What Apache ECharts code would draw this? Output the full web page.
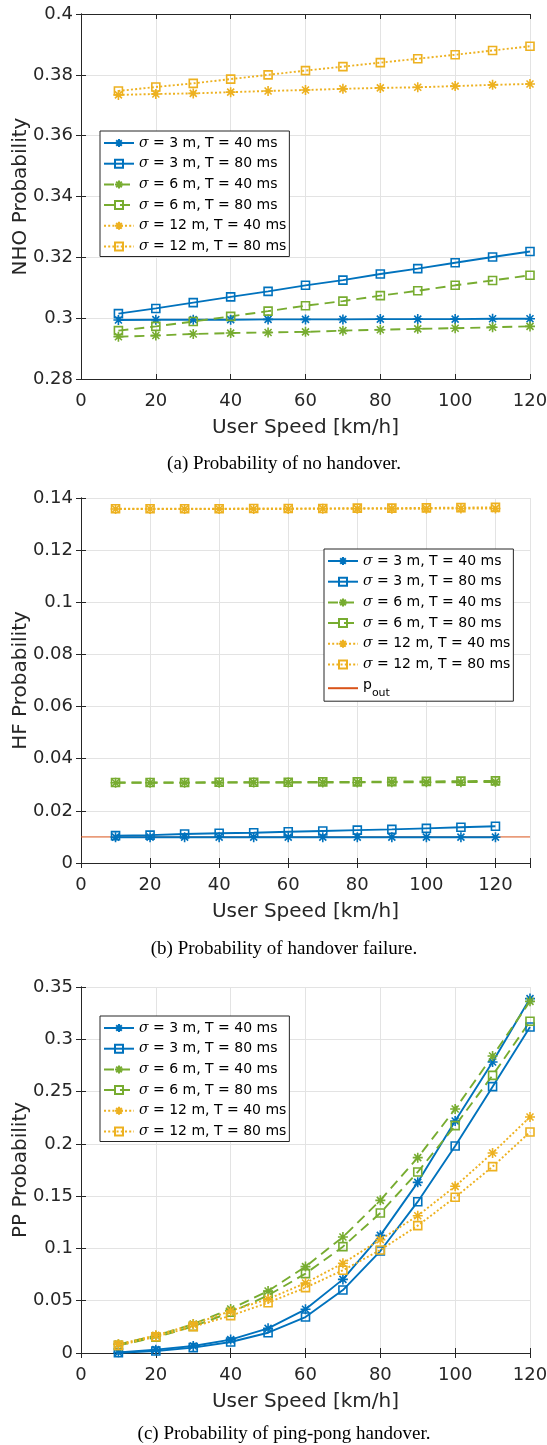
<!DOCTYPE html>
<html>
<head>
<meta charset="utf-8">
<script src="https://cdn.jsdelivr.net/npm/echarts@6/dist/echarts.min.js"></script>
<style>
  html, body { margin: 0; padding: 0; background: #fff; }
  #chart { width: 547px; height: 1445px; }
</style>
</head>
<body>
<div id="chart"></div>
<script>
// x values (user speed, km/h)
const speed = [10, 20, 30, 40, 50, 60, 70, 80, 90, 100, 110, 120];

// (a) probability of no handover
const nhoS3T40 = [0.2994, 0.2995, 0.2995, 0.2995, 0.2996, 0.2996, 0.2996, 0.2997, 0.2997, 0.2997, 0.2998, 0.2998];
const nhoS3T80 = [0.3015, 0.3032, 0.3051, 0.3070, 0.3088, 0.3108, 0.3125, 0.3145, 0.3163, 0.3182, 0.3201, 0.3219];
const nhoS6T40 = [0.2939, 0.2943, 0.2948, 0.2951, 0.2953, 0.2955, 0.2959, 0.2962, 0.2965, 0.2967, 0.2970, 0.2973];
const nhoS6T80 = [0.2959, 0.2973, 0.2989, 0.3006, 0.3023, 0.3041, 0.3056, 0.3074, 0.3090, 0.3108, 0.3124, 0.3141];
const nhoS12T40 = [0.3734, 0.3737, 0.3739, 0.3743, 0.3747, 0.3750, 0.3754, 0.3757, 0.3759, 0.3763, 0.3767, 0.3770];
const nhoS12T80 = [0.3747, 0.3760, 0.3772, 0.3786, 0.3800, 0.3814, 0.3827, 0.3840, 0.3853, 0.3866, 0.3880, 0.3894];

// (b) probability of handover failure
const hfS3T40 = [0.0099, 0.0099, 0.0099, 0.0099, 0.0099, 0.0099, 0.0099, 0.0099, 0.0099, 0.0099, 0.0099, 0.0099];
const hfS3T80 = [0.0105, 0.0107, 0.0111, 0.0114, 0.0116, 0.0120, 0.0123, 0.0126, 0.0129, 0.0133, 0.0137, 0.0141];
const hfS6T40 = [0.0308, 0.0308, 0.0308, 0.0308, 0.0309, 0.0309, 0.0309, 0.0309, 0.0310, 0.0310, 0.0310, 0.0311];
const hfS6T80 = [0.0309, 0.0309, 0.0309, 0.0310, 0.0310, 0.0310, 0.0311, 0.0311, 0.0312, 0.0313, 0.0314, 0.0315];
const hfS12T40 = [0.1358, 0.1358, 0.1358, 0.1358, 0.1358, 0.1358, 0.1359, 0.1359, 0.1359, 0.1359, 0.1360, 0.1360];
const hfS12T80 = [0.1359, 0.1359, 0.1359, 0.1359, 0.1360, 0.1360, 0.1360, 0.1361, 0.1361, 0.1362, 0.1363, 0.1364];
const poutLevel = 0.01;
const poutSpan = [0, 130];

// (c) probability of ping-pong handover
const ppS3T40 = [0.0006, 0.0032, 0.0067, 0.0128, 0.0236, 0.0418, 0.0704, 0.1125, 0.1632, 0.2219, 0.2783, 0.3389];
const ppS3T80 = [0.0003, 0.0019, 0.0051, 0.0105, 0.0194, 0.0344, 0.0602, 0.0975, 0.1447, 0.1979, 0.2547, 0.3117];
const ppS6T40 = [0.0083, 0.0166, 0.0277, 0.0421, 0.0593, 0.0826, 0.1109, 0.1460, 0.1868, 0.2333, 0.2840, 0.3363];
const ppS6T80 = [0.0073, 0.0150, 0.0255, 0.0389, 0.0551, 0.0759, 0.1017, 0.1339, 0.1731, 0.2174, 0.2655, 0.3172];
const ppS12T40 = [0.0083, 0.0169, 0.0274, 0.0402, 0.0516, 0.0669, 0.0858, 0.1084, 0.1313, 0.1594, 0.1913, 0.2257];
const ppS12T80 = [0.0073, 0.0156, 0.0252, 0.0357, 0.0481, 0.0625, 0.0791, 0.0985, 0.1218, 0.1489, 0.1782, 0.2113];

const names = ['σ = 3 m, T = 40 ms', 'σ = 3 m, T = 80 ms', 'σ = 6 m, T = 40 ms',
  'σ = 6 m, T = 80 ms', 'σ = 12 m, T = 40 ms', 'σ = 12 m, T = 80 ms'];
const poutName = 'p_out';

const yLabels = ['NHO Probability', 'HF Probability', 'PP Probability'];
const captions = ['(a) Probability of no handover.', '(b) Probability of handover failure.',
  '(c) Probability of ping-pong handover.'];

const BLUE = '#0072BD', GREEN = '#77AC30', YELLOW = '#EDB120', RED = '#D95319';
const STAR = 'path://M5,0L5,10M0,5L10,5M1.5,1.5L8.5,8.5M8.5,1.5L1.5,8.5';
const SQUARE = 'path://M0,0L10,0L10,10L0,10Z';
const AXC = '#262626';
const SANS = 'DejaVu Sans';

const grids = [
  { left: 81, width: 449, top: 14, height: 365 },
  { left: 81, width: 449, top: 498, height: 365 },
  { left: 81, width: 449, top: 987, height: 366 }
];
const xRange = [[0, 120], [0, 130], [0, 120]];
const yRange = [[0.28, 0.4, 0.02], [0, 0.14, 0.02], [0, 0.35, 0.05]];

const chart = echarts.init(document.getElementById('chart'), null, { renderer: 'canvas' });

const xAxis = [], yAxis = [], series = [], legend = [], title = [];

grids.forEach((g, i) => {
  const xr = xRange[i], yr = yRange[i];
  xAxis.push({
    type: 'value', gridIndex: i, min: xr[0], max: xr[1], interval: 20,
    name: 'User Speed [km/h]', nameLocation: 'middle', nameGap: 39, nameMoveOverlap: false,
    nameTextStyle: { fontFamily: SANS, fontSize: 20, color: AXC },
    axisLine: { lineStyle: { color: AXC, width: 1 } },
    axisTick: { inside: true, length: 5, lineStyle: { color: AXC } },
    axisLabel: { margin: 13, fontFamily: SANS, fontSize: 18, color: AXC,
      formatter: v => (v > 120 ? '' : String(v)) },
    splitLine: { show: true, lineStyle: { color: '#e3e3e3', width: 1 } }
  });
  xAxis.push({
    type: 'value', gridIndex: i, position: 'top', min: xr[0], max: xr[1], interval: 20,
    axisLine: { lineStyle: { color: AXC, width: 1 } },
    axisTick: { inside: true, length: 5, lineStyle: { color: AXC } },
    axisLabel: { show: false }, splitLine: { show: false }
  });
  yAxis.push({
    type: 'value', gridIndex: i, min: yr[0], max: yr[1], interval: yr[2],
    name: yLabels[i], nameLocation: 'middle', nameGap: 50, nameMoveOverlap: false,
    nameTextStyle: { fontFamily: SANS, fontSize: 20, color: AXC },
    axisLine: { show: true, lineStyle: { color: AXC, width: 1 } },
    axisTick: { show: true, inside: true, length: 5, lineStyle: { color: AXC } },
    axisLabel: { margin: 8, fontFamily: SANS, fontSize: 18, color: AXC },
    splitLine: { show: true, lineStyle: { color: '#e3e3e3', width: 1 } }
  });
  yAxis.push({
    type: 'value', gridIndex: i, position: 'right', min: yr[0], max: yr[1], interval: yr[2],
    axisLine: { show: true, lineStyle: { color: AXC, width: 1 } },
    axisTick: { show: true, inside: true, length: 5, lineStyle: { color: AXC } },
    axisLabel: { show: false }, splitLine: { show: false }
  });
  title.push({
    text: captions[i], left: 279, textAlign: 'center',
    top: [450, 935, 1420][i],
    textStyle: { fontFamily: 'Liberation Serif', fontSize: 19, fontWeight: 'normal', color: '#000' }
  });
});

const styles = [
  { color: BLUE, type: 'solid', symbol: STAR, size: 10 },
  { color: BLUE, type: 'solid', symbol: SQUARE, size: 8 },
  { color: GREEN, type: [10, 6], symbol: STAR, size: 10 },
  { color: GREEN, type: [10, 6], symbol: SQUARE, size: 8 },
  { color: YELLOW, type: [2, 2.2], symbol: STAR, size: 10 },
  { color: YELLOW, type: [2, 2.2], symbol: SQUARE, size: 8 }
];

const plotData = [
  [nhoS3T40, nhoS3T80, nhoS6T40, nhoS6T80, nhoS12T40, nhoS12T80],
  [hfS3T40, hfS3T80, hfS6T40, hfS6T80, hfS12T40, hfS12T80],
  [ppS3T40, ppS3T80, ppS6T40, ppS6T80, ppS12T40, ppS12T80]
];

plotData.forEach((set, i) => {
  set.forEach((vals, k) => {
    const s = styles[k];
    series.push({
      name: names[k], type: 'line',
      xAxisIndex: 2 * i, yAxisIndex: 2 * i,
      data: speed.map((x, j) => [x, vals[j]]),
      symbol: s.symbol, symbolSize: s.size, showAllSymbol: true,
      lineStyle: { color: s.color, width: 1.9, type: s.type },
      itemStyle: { color: 'rgba(0,0,0,0)', borderColor: s.color, borderWidth: 1.6 },
      emphasis: { disabled: true }, z: 3
    });
  });
});

series.push({
  name: poutName, type: 'line', xAxisIndex: 2, yAxisIndex: 2,
  data: poutSpan.map(x => [x, poutLevel]),
  symbol: 'none', lineStyle: { color: RED, width: 1 },
  itemStyle: { color: 'rgba(0,0,0,0)', borderColor: 'rgba(0,0,0,0)' },
  emphasis: { disabled: true }, z: 2
});

const legendBase = {
  orient: 'vertical', itemWidth: 30, itemHeight: 10, itemGap: 6.7,
  padding: [5, 3, 3, 3], borderColor: AXC, borderWidth: 1, backgroundColor: '#fff',
  textStyle: {
    fontFamily: SANS, fontSize: 14, lineHeight: 14, color: '#000',
    rich: {
      s: { fontFamily: 'DejaVu Serif', fontStyle: 'italic', fontSize: 14, lineHeight: 14, color: '#000' },
      p: { fontFamily: SANS, fontSize: 14, lineHeight: 20, verticalAlign: 'top', color: '#000' },
      sub: { fontFamily: SANS, fontSize: 11, lineHeight: 11, verticalAlign: 'bottom', color: '#000' }
    }
  },
  formatter: n => (n === poutName ? '{p|p}{sub|out}' : n.replace('σ', '{s|σ}')),
  selectedMode: false
};

legend.push(Object.assign({}, legendBase, { left: 100, top: 131, data: names }));
legend.push(Object.assign({}, legendBase, { left: 324, top: 549, data: names.concat([poutName]) }));
legend.push(Object.assign({}, legendBase, { left: 100, top: 1016, data: names }));

chart.setOption({
  animation: false,
  backgroundColor: '#fff',
  title: title,
  grid: grids.map(g => Object.assign({ show: false, containLabel: false, outerBoundsMode: 'none' }, g)),
  xAxis: xAxis,
  yAxis: yAxis,
  legend: legend,
  series: series
});
</script>
</body>
</html>
